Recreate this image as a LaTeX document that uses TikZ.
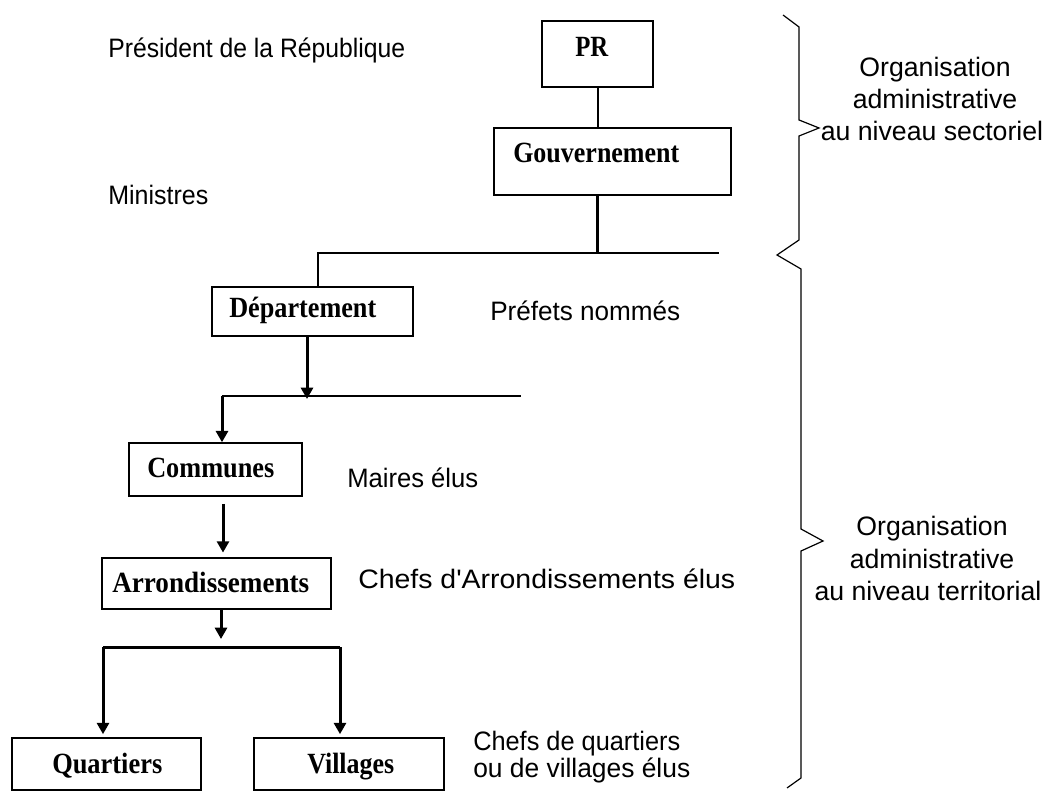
\documentclass[tikz,border=0pt]{standalone}
\usepackage{fontspec}
\usepackage{graphicx}
\setmainfont{Liberation Sans}
\newfontfamily\serifb{Liberation Serif}
\usetikzlibrary{arrows.meta,fit}
\newlength{\pxu}\setlength{\pxu}{0.75pt}
\newcommand{\fw}[2]{\resizebox{#1\pxu}{\height}{#2}}
\tikzset{
  lbl/.style={font=\fontsize{20}{24}\selectfont, inner sep=0pt, anchor=base west},
  rlbl/.style={font=\fontsize{20}{24}\selectfont, inner sep=0pt, anchor=base},
  blbl/.style={font=\serifb\bfseries\fontsize{22}{26}\selectfont, inner sep=0pt, anchor=base west},
  box/.style={draw, line width=1.1pt, inner sep=0pt},
  thk/.style={line width=2.25pt},
  thn/.style={line width=1.1pt},
  brc/.style={line width=0.9pt},
  arr/.style={-{Triangle[width=9pt,length=8.5pt]}}
}
\begin{document}
\begin{tikzpicture}[x=0.75pt,y=-0.75pt]
\useasboundingbox[fill=white] (0,0) rectangle (1043,791);

% boxes
\node[box, fit={(542,21) (653,87)}] (pr) {};
\node[box, fit={(494,128) (731,195)}] (gouv) {};
\node[box, fit={(212,287) (413,336)}] (dep) {};
\node[box, fit={(129,443) (302,496)}] (comm) {};
\node[box, fit={(102,558) (331,609)}] (arro) {};
\node[box, fit={(12,738) (201,790)}] (quart) {};
\node[box, fit={(254,738) (444,790)}] (vill) {};

% box texts
\node[blbl] (tpr) at (575,57) {\fw{33}{PR}};
\node[blbl] (tgouv) at (513,163) {\fw{166}{Gouvernement}};
\node[blbl] (tdep) at (229,318) {\fw{147}{Département}};
\node[blbl] (tcomm) at (147,478) {\fw{127}{Communes}};
\node[blbl] (tarro) at (112,592) {\fw{197}{Arrondissements}};
\node[blbl] (tquart) at (52,773) {\fw{110}{Quartiers}};
\node[blbl] (tvill) at (307,773) {\fw{87}{Villages}};

% side labels
\node[lbl] (lpr) at (108,58) {\fw{297}{Président de la République}};
\node[lbl] (lmin) at (108,205) {\fw{100}{Ministres}};
\node[lbl] (lpref) at (490,321) {\fw{190}{Préfets nommés}};
\node[lbl] (lmaire) at (347,488) {\fw{131}{Maires élus}};
\node[lbl] (lchefa) at (358,589) {\fw{377}{Chefs d\textquotesingle Arrondissements élus}};
\node[lbl] (lchefq1) at (473,750) {\fw{207}{Chefs de quartiers}};
\node[lbl] (lchefq2) at (473,777) {\fw{217}{ou de villages élus}};

% right labels
\node[rlbl] (s1) at (935,77) {Organisation};
\node[rlbl] (s2) at (935,109) {administrative};
\node[rlbl] (s3) at (932,141) {au niveau sectoriel};
\node[rlbl] (t1) at (932,536) {Organisation};
\node[rlbl] (t2) at (932,568) {administrative};
\node[rlbl] (t3) at (928,600) {au niveau territorial};

% coordinates
\coordinate (j1) at (597,253);
\coordinate (h1l) at (318,253);
\coordinate (h1r) at (719,253);
\coordinate (j2) at (307,399);
\coordinate (h2l) at (222,396);
\coordinate (h2r) at (521,396);
\coordinate (x3) at (223,0);
\coordinate (x1) at (598,0);
\coordinate (j3) at (221,647);
\coordinate (jq) at (103,647);
\coordinate (jv) at (340,647);

% connectors
\draw[thn] (pr.south -| x1) -- (x1 |- gouv.north);
\draw[thk] (j1 |- gouv.south) -- (j1);
\draw[thn] (dep.north -| h1l) -- (h1l) -- (h1r);
\draw[thk,arr] (j2 |- dep.south) -- (j2);
\draw[thn] (h2l) -- (h2r);
\draw[thk,arr] (h2l) -- (h2l |- comm.north);
\draw[thk,arr,shorten <=5.3pt,shorten >=3.5pt] (comm.south -| x3) -- (arro.north -| x3);
\draw[thk,arr,shorten >=6pt] (j3 |- arro.south) -- (j3);
\draw[thk] (jq) -- (jv);
\draw[thk,arr,shorten >=2.3pt] (jq) -- (jq |- quart.north);
\draw[thk,arr,shorten >=2.3pt] (jv) -- (jv |- vill.north);

% braces
\draw[brc] (783,15) -- (799,27) -- (799,120) -- (819,128) -- (799,136) -- (799,240) -- (777,255) -- (801,269) -- (801,529) -- (823,541) -- (801,551) -- (801,778) -- (787,788);
\end{tikzpicture}
\end{document}
